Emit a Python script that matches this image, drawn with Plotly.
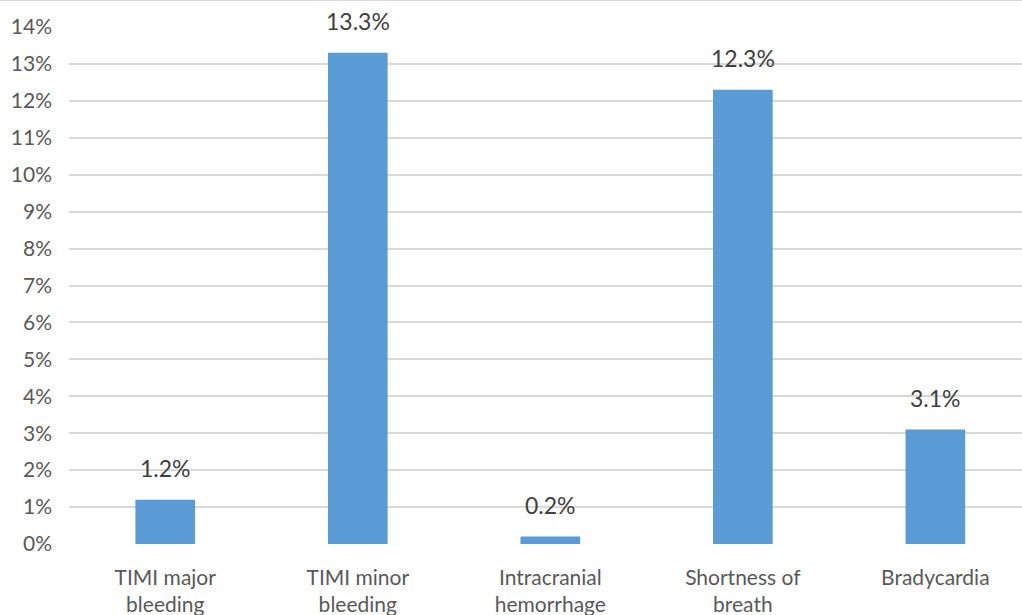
import plotly.graph_objects as go

categories = ["TIMI major<br>bleeding", "TIMI minor<br>bleeding", "Intracranial<br>hemorrhage",
              "Shortness of<br>breath", "Bradycardia"]
values = [1.2, 13.3, 0.2, 12.3, 3.1]  # percent
y_ticks = list(range(0, 15))

x_pos = list(range(len(categories)))
text_color = "#595959"
font_family = "Lato, 'Open Sans', sans-serif"

fig = go.Figure()
fig.add_trace(go.Bar(
    x=x_pos,
    y=[v / 100 for v in values],
    width=0.31,
    marker=dict(color="#5B9BD5", line=dict(width=0)),
    hoverinfo="skip",
))

# value labels above each bar
for xi, v in zip(x_pos, values):
    fig.add_annotation(
        x=xi, y=v / 100, text=f"{v:.1f}%", showarrow=False,
        yanchor="bottom", yshift=16,
        font=dict(family=font_family, size=23, color="#404040"),
    )

# thin border line along the top edge
fig.add_shape(type="line", xref="paper", yref="paper", x0=-0.1, x1=1.1, y0=1.052, y1=1.052,
              line=dict(color="#D9D9D9", width=2))

fig.update_layout(
    width=1022, height=615,
    margin=dict(l=69, r=0, t=27, b=71),
    paper_bgcolor="white", plot_bgcolor="white",
    showlegend=False,
    font=dict(family=font_family, color=text_color),
    xaxis=dict(
        range=[-0.5, 4.45],
        tickmode="array", tickvals=x_pos, ticktext=categories,
        showgrid=False, zeroline=False, showline=False, ticks="",
        tickfont=dict(family=font_family, size=21, color=text_color),
        ticklabelstandoff=19,
    ),
    yaxis=dict(
        range=[0, 0.14],
        tickmode="array", tickvals=[t / 100 for t in y_ticks],
        ticktext=[f"{t}%" for t in y_ticks],
        showgrid=True, gridcolor="#D9D9D9", gridwidth=2,
        zeroline=False, showline=False, ticks="",
        tickfont=dict(family=font_family, size=21, color=text_color),
        ticklabelstandoff=16,
    ),
)

fig.write_html("out.html")
